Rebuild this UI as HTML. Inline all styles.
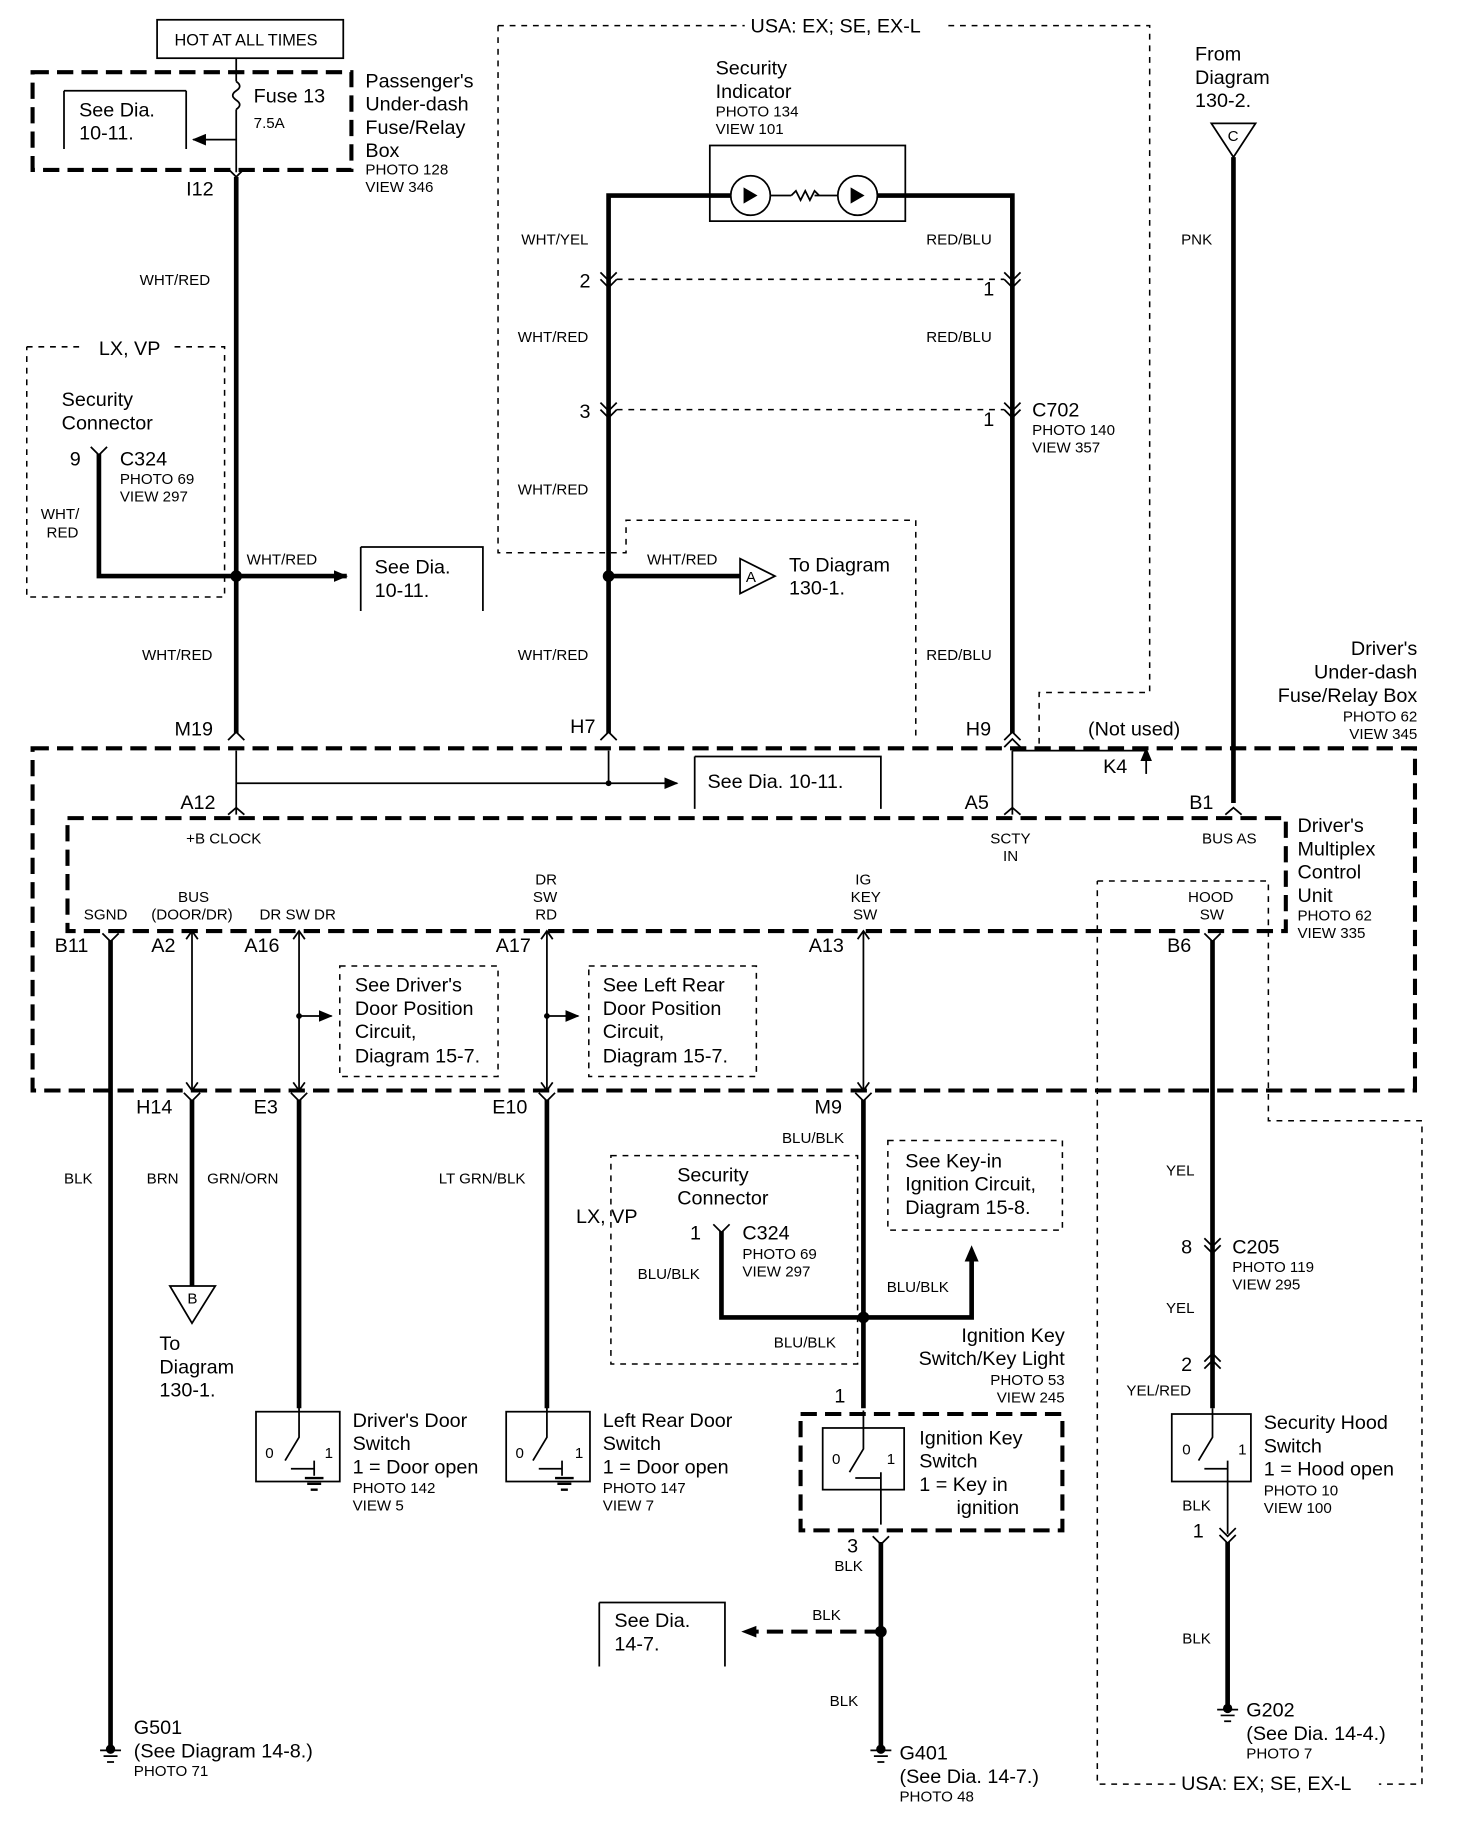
<!DOCTYPE html>
<html><head><meta charset="utf-8"><style>
html,body{margin:0;padding:0;background:#fff}
svg{display:block}
text{font-family:"Liberation Sans",sans-serif;fill:#000}
.l{font-size:17px}.s{font-size:13px}.m{font-size:14px}
.w{stroke:#000;stroke-width:4;fill:none}
.t{stroke:#000;stroke-width:1.5;fill:none}
.d{stroke:#000;stroke-width:1.3;fill:none;stroke-dasharray:5,5}
.D{stroke:#000;stroke-width:3.5;fill:none;stroke-dasharray:14,7}
</style></head><body>
<svg width="1472" height="1826" viewBox="0 0 1265 1569" preserveAspectRatio="none" xmlns="http://www.w3.org/2000/svg">
<defs><marker id="a" markerUnits="userSpaceOnUse" markerWidth="12" markerHeight="10" refX="11" refY="5" orient="auto"><path d="M0,0L12,5L0,10z"/></marker></defs>
<rect x="135" y="17" width="160" height="33" class="t"/>
<text x="150" y="39" class="m">HOT AT ALL TIMES</text>
<rect x="28" y="62" width="274" height="84" class="D"/>
<path d="M55,78V128M55,78h105M160,78V128" class="t"/>
<text x="68" y="100" class="l">See Dia.</text><text x="68" y="120" class="l">10-11.</text>
<path d="M203,50V70" class="t"/><path d="M203,70 q6,4 0,8 q-6,4 0,8 q6,4 0,8" class="t"/><path d="M203,94V148" class="t"/>
<path d="M203,120H166" class="t" marker-end="url(#a)"/>
<text x="218" y="88" class="l">Fuse 13</text><text x="218" y="110" class="s">7.5A</text>
<text x="314" y="75" class="l">Passenger's</text><text x="314" y="95" class="l">Under-dash</text><text x="314" y="115" class="l">Fuse/Relay</text><text x="314" y="135" class="l">Box</text>
<text x="314" y="150" class="s">PHOTO 128</text><text x="314" y="165" class="s">VIEW 346</text>
<text x="160" y="168" class="l">I12</text>
<path d="M203,152V630" class="w"/><path d="M196,145l7,7l7,-7" class="t"/>
<text x="120" y="245" class="s">WHT/RED</text>
<path d="M23,298H70M150,298H193V513H23V298" class="d"/>
<text x="85" y="305" class="l">LX, VP</text>
<text x="53" y="349" class="l">Security</text><text x="53" y="369" class="l">Connector</text>
<text x="60" y="400" class="l">9</text><text x="103" y="400" class="l">C324</text>
<text x="103" y="416" class="s">PHOTO 69</text><text x="103" y="431" class="s">VIEW 297</text>
<text x="35" y="446" class="s">WHT/</text><text x="40" y="462" class="s">RED</text>
<path d="M85,390V495H203" class="w"/><path d="M78,384l7,7l7,-7" class="t"/>
<circle cx="203" cy="495" r="5"/>
<path d="M203,495H298" class="w" marker-end="url(#a)"/>
<text x="212" y="485" class="s">WHT/RED</text>
<path d="M310,470V525M310,470h105V525" class="t"/>
<text x="322" y="493" class="l">See Dia.</text><text x="322" y="513" class="l">10-11.</text>
<text x="122" y="567" class="s">WHT/RED</text>
<text x="150" y="632" class="l">M19</text>
<path d="M428,22H640M815,22H988V595H893V640M428,22V475H538V447H787V637" class="d"/>
<text x="645" y="28" class="l">USA: EX; SE, EX-L</text>
<text x="615" y="64" class="l">Security</text><text x="615" y="84" class="l">Indicator</text>
<text x="615" y="100" class="s">PHOTO 134</text><text x="615" y="115" class="s">VIEW 101</text>
<rect x="610" y="125" width="168" height="65" class="t" stroke-width="2"/>
<circle cx="645" cy="168" r="17" class="t" stroke-width="2.5"/><circle cx="737" cy="168" r="17" class="t" stroke-width="2.5"/>
<path d="M639,161V175L651,168z M652,161V175M731,161V175L743,168z M744,161V175"/>
<path d="M680,168 l4,-4 4,8 4,-8 4,8 4,-8 4,4" class="t"/>
<path d="M662,168H680M700,168H720" class="t"/>
<path d="M523,630V168H628M870,630V168H754" class="w"/>
<text x="448" y="210" class="s">WHT/YEL</text><text x="796" y="210" class="s">RED/BLU</text>
<path d="M530,240H863M530,352H863" class="d" stroke-width="1"/>
<path d="M516,234l7,7l7,-7M516,240l7,7l7,-7M863,234l7,7l7,-7M863,240l7,7l7,-7M516,346l7,7l7,-7M516,352l7,7l7,-7M863,346l7,7l7,-7M863,352l7,7l7,-7" class="t" stroke-width="2"/>
<text x="498" y="247" class="l">2</text><text x="845" y="254" class="l">1</text>
<text x="498" y="359" class="l">3</text><text x="845" y="366" class="l">1</text>
<text x="445" y="294" class="s">WHT/RED</text><text x="796" y="294" class="s">RED/BLU</text>
<text x="887" y="358" class="l">C702</text><text x="887" y="374" class="s">PHOTO 140</text><text x="887" y="389" class="s">VIEW 357</text>
<text x="445" y="425" class="s">WHT/RED</text>
<circle cx="523" cy="495" r="5"/>
<path d="M523,495H636" class="w"/><path d="M636,480V510L666,495z" class="t"/>
<text x="641" y="500" class="s">A</text>
<text x="556" y="485" class="s">WHT/RED</text>
<text x="678" y="491" class="l">To Diagram</text><text x="678" y="511" class="l">130-1.</text>
<text x="445" y="567" class="s">WHT/RED</text><text x="796" y="567" class="s">RED/BLU</text>
<text x="490" y="630" class="l">H7</text><text x="830" y="632" class="l">H9</text>
<path d="M196,636l7,-7l7,7M516,636l7,-7l7,7M863,636l7,-7l7,7M863,642l7,-7l7,7" class="t" stroke-width="2"/>
<text x="1027" y="52" class="l">From</text><text x="1027" y="72" class="l">Diagram</text><text x="1027" y="92" class="l">130-2.</text>
<path d="M1041,106H1079L1060,135z" class="t"/><text x="1055" y="121" class="s">C</text>
<path d="M1060,135V690" class="w"/><text x="1015" y="210" class="s">PNK</text>
<text x="1218" y="563" class="l" text-anchor="end">Driver's</text><text x="1218" y="583" class="l" text-anchor="end">Under-dash</text><text x="1218" y="603" class="l" text-anchor="end">Fuse/Relay Box</text>
<text x="1218" y="620" class="s" text-anchor="end">PHOTO 62</text><text x="1218" y="635" class="s" text-anchor="end">VIEW 345</text>
<text x="935" y="632" class="l">(Not used)</text>
<rect x="28" y="643" width="1188" height="294" class="D"/>
<path d="M203,645V700M523,645V673M870,645V700" class="t"/>
<path d="M203,673H582" class="t" marker-end="url(#a)"/><circle cx="523" cy="673" r="2.5"/>
<path d="M870,645H985" class="t"/><path d="M985,665V643" class="t" marker-end="url(#a)"/>
<path d="M597,650V695M597,650h160V695" class="t"/>
<text x="608" y="677" class="l">See Dia. 10-11.</text>
<text x="948" y="664" class="l">K4</text>
<text x="155" y="695" class="l">A12</text><text x="829" y="695" class="l">A5</text><text x="1022" y="695" class="l">B1</text>
<path d="M196,700l7,-6l7,6M863,700l7,-6l7,6M1053,700l7,-6l7,6" class="t" stroke-width="2"/>
<rect x="58" y="703" width="1047" height="97" class="D" stroke-width="3"/>
<text x="160" y="725" class="s">+B CLOCK</text>
<text x="851" y="725" class="s">SCTY</text><text x="862" y="740" class="s">IN</text>
<text x="1033" y="725" class="s">BUS AS</text>
<text x="1115" y="715" class="l">Driver's</text><text x="1115" y="735" class="l">Multiplex</text><text x="1115" y="755" class="l">Control</text><text x="1115" y="775" class="l">Unit</text>
<text x="1115" y="791" class="s">PHOTO 62</text><text x="1115" y="806" class="s">VIEW 335</text>
<text x="72" y="790" class="s">SGND</text><text x="153" y="775" class="s">BUS</text><text x="130" y="790" class="s">(DOOR/DR)</text>
<text x="223" y="790" class="s">DR SW DR</text>
<text x="460" y="760" class="s">DR</text><text x="458" y="775" class="s">SW</text><text x="460" y="790" class="s">RD</text>
<text x="735" y="760" class="s">IG</text><text x="731" y="775" class="s">KEY</text><text x="733" y="790" class="s">SW</text>
<text x="1021" y="775" class="s">HOOD</text><text x="1031" y="790" class="s">SW</text>
<text x="47" y="818" class="l">B11</text><text x="130" y="818" class="l">A2</text><text x="210" y="818" class="l">A16</text><text x="426" y="818" class="l">A17</text><text x="695" y="818" class="l">A13</text><text x="1003" y="818" class="l">B6</text>
<path d="M943,757H1090V963H1222V1533H1185M1010,1533H943V757" class="d"/>
<text x="1015" y="1538" class="l">USA: EX; SE, EX-L</text>
<path d="M165,800V937M257,800V937M470,800V937M742,800V937" class="t"/>
<path d="M160,807l5,-7l5,7M160,930l5,7l5,-7M252,807l5,-7l5,7M252,930l5,7l5,-7M465,807l5,-7l5,7M465,930l5,7l5,-7M737,807l5,-7l5,7M737,930l5,7l5,-7" class="t"/>
<circle cx="257" cy="873" r="2.5"/><circle cx="470" cy="873" r="2.5"/>
<path d="M257,873H285" class="t" marker-end="url(#a)"/>
<path d="M470,873H497" class="t" marker-end="url(#a)"/>
<path d="M292,830H428V925H292z" class="d"/>
<text x="305" y="852" class="l">See Driver's</text><text x="305" y="872" class="l">Door Position</text><text x="305" y="892" class="l">Circuit,</text><text x="305" y="913" class="l">Diagram 15-7.</text>
<path d="M506,830H650V925H506z" class="d"/>
<text x="518" y="852" class="l">See Left Rear</text><text x="518" y="872" class="l">Door Position</text><text x="518" y="892" class="l">Circuit,</text><text x="518" y="913" class="l">Diagram 15-7.</text>
<path d="M95,808V1500M1042,808V1210" class="w"/>
<path d="M88,802l7,7l7,-7M1035,802l7,7l7,-7" class="t" stroke-width="2"/>
<text x="117" y="957" class="l">H14</text><text x="218" y="957" class="l">E3</text><text x="423" y="957" class="l">E10</text><text x="700" y="957" class="l">M9</text>
<path d="M165,945V1105M257,945V1210M470,945V1210M742,945V1210" class="w"/>
<path d="M158,939l7,7l7,-7M250,939l7,7l7,-7M463,939l7,7l7,-7M735,939l7,7l7,-7" class="t" stroke-width="2"/>
<text x="55" y="1017" class="s">BLK</text><text x="126" y="1017" class="s">BRN</text><text x="178" y="1017" class="s">GRN/ORN</text><text x="377" y="1017" class="s">LT GRN/BLK</text>
<path d="M146,1105H185L165,1137z" class="t"/><text x="161" y="1120" class="s">B</text>
<text x="137" y="1160" class="l">To</text><text x="137" y="1180" class="l">Diagram</text><text x="137" y="1200" class="l">130-1.</text>
<text x="672" y="982" class="s">BLU/BLK</text>
<path d="M525,993H737V1172H525z" class="d"/>
<text x="582" y="1015" class="l">Security</text><text x="582" y="1035" class="l">Connector</text>
<text x="495" y="1051" class="l">LX, VP</text>
<text x="593" y="1065" class="l">1</text><text x="638" y="1065" class="l">C324</text>
<text x="638" y="1082" class="s">PHOTO 69</text><text x="638" y="1097" class="s">VIEW 297</text>
<text x="548" y="1099" class="s">BLU/BLK</text>
<path d="M620,1058V1132H835V1082" class="w"/><path d="M829,1084H841L835,1070z"/>
<path d="M613,1052l7,7l7,-7" class="t" stroke-width="2"/>
<circle cx="742" cy="1132" r="5"/>
<text x="665" y="1158" class="s">BLU/BLK</text><text x="762" y="1110" class="s">BLU/BLK</text>
<path d="M763,980H913V1057H763z" class="d"/>
<text x="778" y="1003" class="l">See Key-in</text><text x="778" y="1023" class="l">Ignition Circuit,</text><text x="778" y="1043" class="l">Diagram 15-8.</text>
<text x="915" y="1153" class="l" text-anchor="end">Ignition Key</text><text x="915" y="1173" class="l" text-anchor="end">Switch/Key Light</text>
<text x="915" y="1190" class="s" text-anchor="end">PHOTO 53</text><text x="915" y="1205" class="s" text-anchor="end">VIEW 245</text>
<text x="717" y="1205" class="l">1</text>
<g class="t" stroke-width="3">
<rect x="220" y="1213" width="72" height="60"/><rect x="435" y="1213" width="72" height="60"/><rect x="707" y="1227" width="70" height="53"/><rect x="1007" y="1215" width="68" height="58"/>
</g>
<path d="M688,1215H913V1315H688z" class="D" stroke-width="3"/>
<g class="t">
<path d="M257,1207V1235L245,1255M270,1255V1268M250,1262H270M470,1207V1235L458,1255M483,1255V1268M463,1262H483M742,1212V1245L730,1265M757,1265V1310M735,1270H757M1042,1210V1235L1030,1255M1055,1255V1318M1035,1262H1055"/>
<path d="M262,1270h16M264,1275h12M267,1280h6M477,1270h16M479,1275h12M482,1280h6" stroke-width="2"/>
</g>
<text x="228" y="1253" class="s">0</text><text x="279" y="1253" class="s">1</text>
<text x="443" y="1253" class="s">0</text><text x="494" y="1253" class="s">1</text>
<text x="715" y="1258" class="s">0</text><text x="762" y="1258" class="s">1</text>
<text x="1016" y="1250" class="s">0</text><text x="1064" y="1250" class="s">1</text>
<text x="303" y="1226" class="l">Driver's Door</text><text x="303" y="1246" class="l">Switch</text><text x="303" y="1266" class="l">1 = Door open</text><text x="303" y="1283" class="s">PHOTO 142</text><text x="303" y="1298" class="s">VIEW 5</text>
<text x="518" y="1226" class="l">Left Rear Door</text><text x="518" y="1246" class="l">Switch</text><text x="518" y="1266" class="l">1 = Door open</text><text x="518" y="1283" class="s">PHOTO 147</text><text x="518" y="1298" class="s">VIEW 7</text>
<text x="790" y="1241" class="l">Ignition Key</text><text x="790" y="1261" class="l">Switch</text><text x="790" y="1281" class="l">1 = Key in</text><text x="822" y="1301" class="l">ignition</text>
<text x="1086" y="1228" class="l">Security Hood</text><text x="1086" y="1248" class="l">Switch</text><text x="1086" y="1268" class="l">1 = Hood open</text><text x="1086" y="1285" class="s">PHOTO 10</text><text x="1086" y="1300" class="s">VIEW 100</text>
<text x="728" y="1334" class="l">3</text><text x="717" y="1350" class="s">BLK</text>
<path d="M757,1325V1500" class="w"/><path d="M750,1320l7,7l7,-7" class="t" stroke-width="2"/>
<circle cx="757" cy="1402" r="5"/>
<path d="M757,1402H645" class="D" stroke-width="3" stroke-dasharray="10,5"/><path d="M650,1397V1407L637,1402z"/>
<text x="698" y="1392" class="s">BLK</text>
<path d="M515,1377V1432M515,1377h108V1432" class="t"/>
<text x="528" y="1398" class="l">See Dia.</text><text x="528" y="1418" class="l">14-7.</text>
<text x="713" y="1466" class="s">BLK</text>
<text x="1002" y="1010" class="s">YEL</text>
<path d="M1035,1064l7,7l7,-7M1035,1070l7,7l7,-7M1035,1170l7,-7l7,7M1035,1176l7,-7l7,7M1048,1313l7,7l7,-7M1048,1319l7,7l7,-7" class="t" stroke-width="2"/>
<text x="1015" y="1077" class="l">8</text><text x="1059" y="1077" class="l">C205</text><text x="1059" y="1093" class="s">PHOTO 119</text><text x="1059" y="1108" class="s">VIEW 295</text>
<text x="1002" y="1128" class="s">YEL</text><text x="1015" y="1178" class="l">2</text><text x="968" y="1199" class="s">YEL/RED</text>
<text x="1016" y="1298" class="s">BLK</text><text x="1025" y="1321" class="l">1</text>
<path d="M1055,1325V1465" class="w"/>
<text x="1016" y="1412" class="s">BLK</text>
<g class="t" stroke-width="2">
<path d="M95,1500v2M86,1504h18M89,1509h12M92,1514h6M757,1500v2M748,1504h18M751,1509h12M754,1514h6M1055,1465v2M1046,1469h18M1049,1474h12M1052,1479h6"/>
</g>
<circle cx="95" cy="1503" r="4"/><circle cx="757" cy="1503" r="4"/><circle cx="1055" cy="1468" r="4"/>
<text x="115" y="1490" class="l">G501</text><text x="115" y="1510" class="l">(See Diagram 14-8.)</text><text x="115" y="1526" class="s">PHOTO 71</text>
<text x="773" y="1512" class="l">G401</text><text x="773" y="1532" class="l">(See Dia. 14-7.)</text><text x="773" y="1548" class="s">PHOTO 48</text>
<text x="1071" y="1475" class="l">G202</text><text x="1071" y="1495" class="l">(See Dia. 14-4.)</text><text x="1071" y="1511" class="s">PHOTO 7</text>
</svg>
</body></html>
